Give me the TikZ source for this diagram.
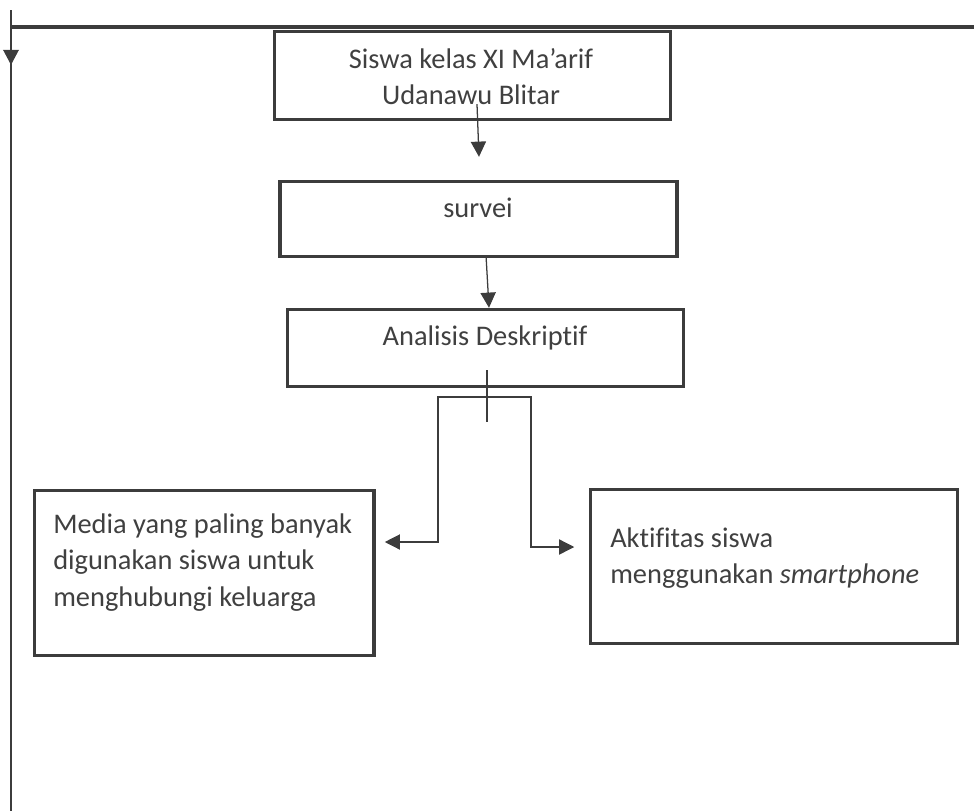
\documentclass[tikz,border=0pt]{standalone}
\usepackage{fontspec}
\setmainfont{Carlito}[Ligatures={TeX,NoCommon}]
\usetikzlibrary{arrows.meta,calc}
\definecolor{ink}{HTML}{3C3C3C}
\definecolor{inktext}{HTML}{404040}

\begin{document}
\begin{tikzpicture}[x=0.025cm,y=-0.025cm,
  box/.style={draw=ink,line width=2.4pt,inner sep=0pt},
  txt/.style={text=inktext,inner sep=0pt,font=\fontsize{20.2pt}{26.3pt}\selectfont},
  con/.style={draw=ink,line width=0.9pt},
  tip/.style={-{Triangle[length=0.38cm,width=0.38cm]}}]
  \useasboundingbox (0,0) rectangle (974,811);
  % frame round the chart
  \coordinate (ftop) at (11,10);
  \coordinate (farrow) at (11,65);
  \coordinate (fbottom) at (11,811);
  \coordinate (fleft) at (10,27);
  \coordinate (fright) at (974,27);
  \draw[con,line width=2.2pt] (fleft) -- (fright);
  \draw[con,line width=2pt] (ftop) -- (fbottom);
  \draw[con,line width=2pt,tip] (ftop) -- (farrow);
  % boxes
  \node (siswa) at (472.5,75.5) [box,minimum width=9.9cm,minimum height=2.2cm] {};
  \node (survei) at (478.5,219) [box,minimum width=9.925cm,minimum height=1.875cm] {};
  \node (analisis) at (485.5,348) [box,minimum width=9.9cm,minimum height=1.925cm] {};
  \node (media) at (204.25,573) [box,minimum width=8.49cm,minimum height=4.125cm] {};
  \node (aktif) at (774,566.5) [box,minimum width=9.175cm,minimum height=3.85cm] {};
  % texts
  \node (siswa-t) at (471,68) [txt,anchor=base,text width=9cm,align=flush center]
       {Siswa kelas XI Ma'arif\\Udanawu Blitar};
  \node (survei-t) at (478,217) [txt,anchor=base] {survei};
  \node (analisis-t) at (485,345) [txt,anchor=base] {Analisis Deskriptif};
  \node (media-t) at (53,533) [txt,anchor=base west,text width=8cm,align=flush left]
       {Media yang paling banyak\\digunakan siswa untuk\\menghubungi keluarga};
  \node (aktif-t) at (610,547) [txt,anchor=base west,text width=8.5cm,align=flush left]
       {Aktifitas siswa\\menggunakan \textit{smartphone}};
  % connectors
  \draw[con,tip] ($(siswa.south)+(4.5,-17)$) -- ($(survei.north)+(0.5,-23)$);
  \draw[con,tip] ($(survei.south)+(7.5,-3)$) -- ($(analisis.north)+(3.5,0)$);
  \draw[con] ($(analisis.south)+(1.5,-18)$) -- ($(analisis.south)+(1.5,34)$);
  \coordinate (fork-l) at (438,397);
  \coordinate (fork-r) at (531,397);
  \draw[con,{Triangle[length=0.38cm,width=0.38cm]}-{Triangle[length=0.38cm,width=0.38cm]}]
       ($(media.east)+(9,-31)$) -| (fork-l) -- (fork-r) |- ($(aktif.west)+(-14.5,-19.5)$);
\end{tikzpicture}
\end{document}
